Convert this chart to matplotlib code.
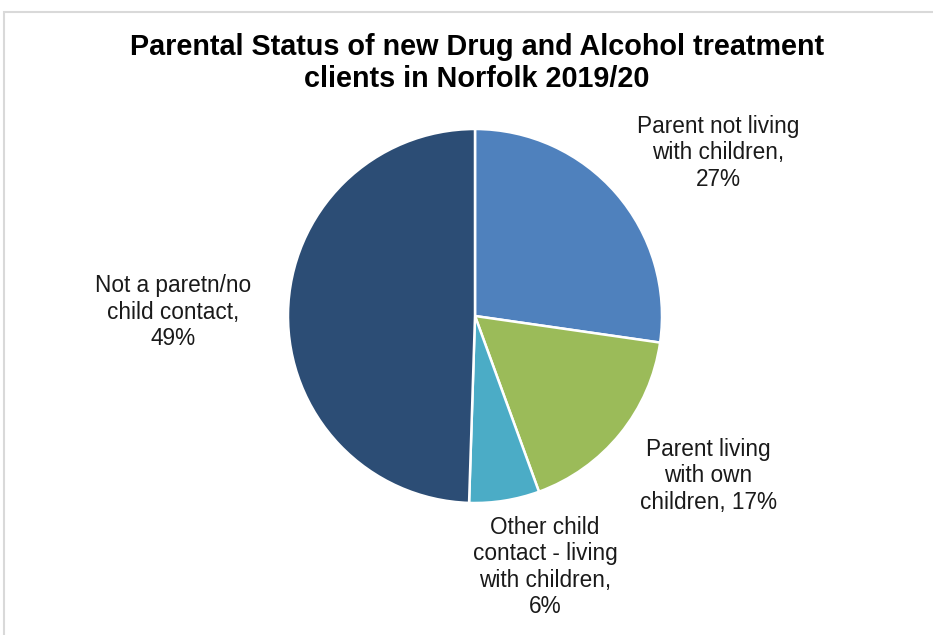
#!/usr/bin/env python3

import matplotlib
matplotlib.use('Agg')
import matplotlib.pyplot as plt
from matplotlib.patches import Rectangle

categories = ['Parent not living\nwith children,\n27%',
              'Parent living\nwith own\nchildren, 17%',
              'Other child\ncontact - living\nwith children,\n6%',
              'Not a paretn/no\nchild contact,\n49%']
shares = [27, 17, 6, 49]
colours = ['#4F81BD', '#9BBB59', '#4BACC6', '#2C4D75']
title = 'Parental Status of new Drug and Alcohol treatment\nclients in Norfolk 2019/20'

W, H = 933, 635
plt.rcParams['font.family'] = ['Liberation Sans', 'DejaVu Sans']

fig = plt.figure(figsize=(W / 100, H / 100), dpi=100)
ax = fig.add_axes([0, 0, 1, 1])

ax.pie(shares, colors=colours, startangle=90, counterclock=False,
       center=(475, H - 316), radius=187,
       wedgeprops=dict(edgecolor='white', linewidth=1.8))

# pie() resets the limits, so set them afterwards
ax.set_xlim(0, W)
ax.set_ylim(0, H)
ax.set_aspect('equal')
ax.axis('off')

# chart frame (cut off at right/bottom like the screenshot)
ax.add_patch(Rectangle((4, -20), W + 40, H - 12 + 20, fill=False,
                       edgecolor='#D9D9D9', linewidth=1.5))

# label centres in pixel coords (x, y from top)
label_pos = [(718, 153), (708, 476), (545, 567), (173, 312)]
for lab, (x, y) in zip(categories, label_pos):
    ax.text(x, H - y, lab, ha='center', va='center', fontsize=16.3,
            color='#1a1a1a', linespacing=1.2)

ax.text(477, H - 63, title, ha='center', va='center', fontsize=20.7,
        fontweight='bold', color='black', linespacing=1.2)

fig.savefig('out.png', dpi=100)
